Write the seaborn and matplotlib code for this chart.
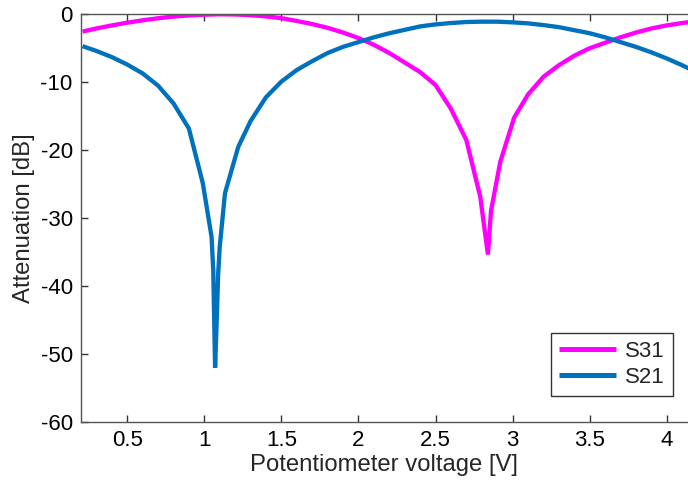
import numpy as np
import pandas as pd
import matplotlib
matplotlib.use("Agg")
import matplotlib.pyplot as plt
import seaborn as sns

# Measured attenuation vs. potentiometer control voltage
s31_voltage = [0.21, 0.30, 0.40, 0.50, 0.60, 0.70, 0.80, 0.90, 1.00, 1.10,
               1.20, 1.30, 1.40, 1.50, 1.60, 1.70, 1.80, 1.90, 2.00, 2.10,
               2.20, 2.30, 2.40, 2.50, 2.60, 2.70, 2.79, 2.84, 2.86, 2.92,
               3.01, 3.10, 3.20, 3.30, 3.40, 3.50, 3.60, 3.70, 3.80, 3.90,
               4.00, 4.10, 4.20]
s31_db = [-2.65, -2.2, -1.75, -1.35, -1.0, -0.7, -0.45, -0.28, -0.17, -0.12,
          -0.14, -0.25, -0.42, -0.68, -1.1, -1.55, -2.1, -2.8, -3.6, -4.6,
          -5.8, -7.2, -8.6, -10.5, -14.0, -18.6, -26.9, -35.4, -29.0, -21.8,
          -15.3, -11.9, -9.3, -7.6, -6.2, -5.1, -4.3, -3.5, -2.8, -2.2,
          -1.75, -1.4, -1.1]

s21_voltage = [0.21, 0.30, 0.40, 0.50, 0.60, 0.70, 0.80, 0.90, 0.99, 1.047,
               1.058, 1.07, 1.082, 1.09, 1.10, 1.134, 1.22, 1.30, 1.40, 1.50,
               1.60, 1.70, 1.80, 1.90, 2.00, 2.10, 2.20, 2.30, 2.40, 2.50,
               2.60, 2.70, 2.80, 2.90, 3.00, 3.10, 3.20, 3.30, 3.40, 3.50,
               3.60, 3.70, 3.80, 3.90, 4.00, 4.10, 4.20]
s21_db = [-4.8, -5.5, -6.4, -7.5, -8.8, -10.6, -13.2, -16.9, -24.9, -32.8,
          -37.7, -52.0, -44.0, -38.2, -34.3, -26.4, -19.6, -15.8, -12.3, -10.0,
          -8.3, -7.0, -5.8, -4.9, -4.2, -3.5, -2.9, -2.4, -1.9, -1.6,
          -1.4, -1.25, -1.2, -1.2, -1.3, -1.45, -1.7, -2.0, -2.45, -2.9,
          -3.5, -4.2, -4.9, -5.7, -6.6, -7.6, -8.7]

series_names = ["S31", "S21"]
series_colors = ["#FF00FF", "#0072BD"]

df = pd.concat([
    pd.DataFrame({"voltage": s31_voltage, "db": s31_db, "port": "S31"}),
    pd.DataFrame({"voltage": s21_voltage, "db": s21_db, "port": "S21"}),
], ignore_index=True)

sns.set_theme(style="white")
plt.rcParams["font.family"] = ["Liberation Sans", "DejaVu Sans"]

fig = plt.figure(figsize=(6.88, 4.82), dpi=100)
ax = fig.add_axes([81 / 688, 60 / 482, 607 / 688, 408.5 / 482])

sns.lineplot(data=df, x="voltage", y="db", hue="port",
             hue_order=series_names, palette=series_colors,
             estimator=None, sort=False, linewidth=3.1,
             solid_capstyle="butt", solid_joinstyle="miter", ax=ax)

ax.set_xlim(0.2, 4.138)
ax.set_ylim(-60, 0)
ax.set_xticks([0.5, 1, 1.5, 2, 2.5, 3, 3.5, 4])
ax.set_xticklabels(["0.5", "1", "1.5", "2", "2.5", "3", "3.5", "4"])
ax.set_yticks([-60, -50, -40, -30, -20, -10, 0])
ax.set_yticklabels(["-60", "-50", "-40", "-30", "-20", "-10", "0"])

ax.set_xlabel("Potentiometer voltage [V]", fontsize=17.2, labelpad=2)
ax.set_ylabel("Attenuation [dB]", fontsize=17.2, labelpad=4)

ax.tick_params(axis="both", which="major", direction="in", length=5,
               width=1, colors="#333333", labelcolor="black",
               labelsize=16, top=True, right=False, bottom=True, left=True,
               pad=6)

for side in ["left", "bottom", "top"]:
    ax.spines[side].set_color("#555555")
    ax.spines[side].set_linewidth(1.0)
ax.spines["right"].set_visible(False)

leg = ax.legend(loc="lower right", bbox_to_anchor=(0.975, 0.064),
                fontsize=16, frameon=True, fancybox=False,
                edgecolor="black", handlelength=2.6, handletextpad=0.4,
                borderpad=0.35, labelspacing=0.25, borderaxespad=0)
leg.get_frame().set_linewidth(1.0)
for line in leg.get_lines():
    line.set_linewidth(3.6)

fig.savefig("out.png", dpi=100)
